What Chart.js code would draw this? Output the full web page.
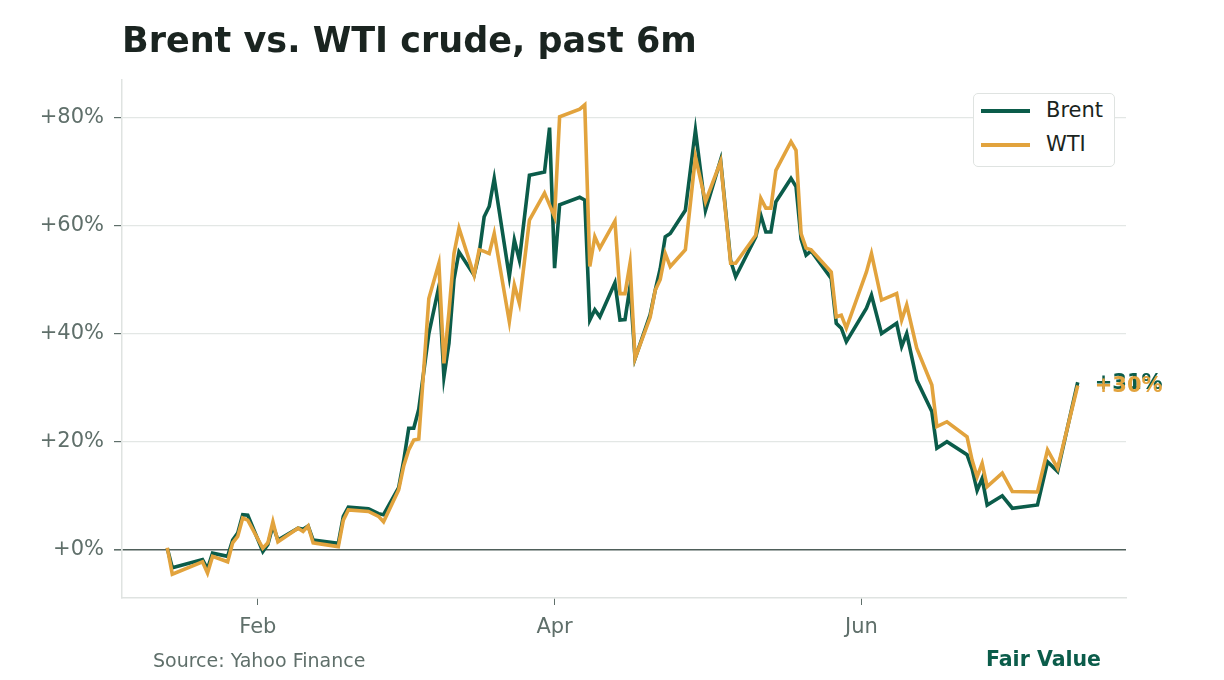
<!DOCTYPE html>
<html>
<head>
<meta charset="utf-8">
<script src="https://cdn.jsdelivr.net/npm/chart.js@4.4.1/dist/chart.umd.min.js"></script>
<style>
  html, body { margin: 0; padding: 0; background: #fff; }
  #wrap { position: relative; width: 1224px; height: 680px; font-family: 'DejaVu Sans', sans-serif; }
  #chart-box { position: absolute; left: 0; top: 0; width: 1224px; height: 680px; }
  #titulo { position: absolute; left: 122px; top: 23px; font: bold 35px 'DejaVu Sans'; line-height: 1; color: #1a2420; white-space: nowrap; }
  #fuente { position: absolute; left: 153px; top: 651px; font: 19px 'DejaVu Sans'; line-height: 1; color: #5f6f6a; }
  #marca { position: absolute; right: 123px; top: 649px; font: bold 20.5px 'DejaVu Sans'; line-height: 1; color: #0b5c4a; }
  #leyenda { position: absolute; left: 973px; top: 93px; width: 142px; height: 74px; box-sizing: border-box;
             border: 1.5px solid #dfe3e1; border-radius: 5px; background: #fff; }
  .item { position: absolute; left: 0; height: 24px; width: 140px; }
  .item .linea { position: absolute; left: 7px; top: 10px; width: 49px; height: 4px; }
  .item .txt { position: absolute; left: 72px; top: 1px; font: 21px 'DejaVu Sans'; line-height: 21px; color: #1a2420; }
</style>
</head>
<body>
<div id="wrap">
  <div id="chart-box"><canvas id="chart-crudo"></canvas></div>
  <div id="titulo">Brent vs. WTI crude, past 6m</div>
  <div id="leyenda">
    <div class="item" style="top:5px"><div class="linea" style="background:#0b5c4a"></div><div class="txt">Brent</div></div>
    <div class="item" style="top:39px"><div class="linea" style="background:#e2a33d"></div><div class="txt">WTI</div></div>
  </div>
  <div id="fuente">Source: Yahoo Finance</div>
  <div id="marca">Fair Value</div>
</div>
<script>
// fechas de cotización
const fechas = [
  '01-14','01-15','01-21','01-22','01-23','01-26','01-27','01-28','01-29','01-30',
  '02-02','02-03','02-04','02-05','02-09','02-10','02-11','02-12','02-17','02-18',
  '02-19','02-23','02-25','02-26','03-01','03-02','03-03','03-04','03-05','03-07',
  '03-09','03-10','03-11','03-12','03-13','03-16','03-17','03-18','03-19','03-20',
  '03-23','03-24','03-25','03-27','03-30','03-31','04-01','04-02','04-06','04-07',
  '04-08','04-09','04-10','04-13','04-14','04-15','04-16','04-17','04-20','04-21',
  '04-22','04-23','04-24','04-27','04-29','05-01','05-04','05-06','05-07','05-11',
  '05-12','05-13','05-14','05-15','05-18','05-19','05-20','05-21','05-22','05-26',
  '05-27','05-28','05-29','06-02','06-03','06-05','06-08','06-09','06-10','06-12',
  '06-15','06-16','06-18','06-22','06-23','06-24','06-25','06-26','06-29','07-01',
  '07-06','07-08','07-10','07-14'
];

// variación acumulada en %
const brent = [
  0.3, -3.3, -1.8, -3.5, -0.6, -1.2, 1.8, 3.1, 6.5, 6.4,
  -0.3, 1.0, 4.5, 1.8, 4.0, 3.8, 4.4, 1.8, 1.2, 6.2,
  7.9, 7.6, 6.7, 6.5, 11.5, 16.5, 22.5, 22.5, 26.0, 40.0,
  48.7, 32.0, 38.2, 50.0, 55.1, 50.8, 54.8, 61.6, 63.5, 68.7,
  50.5, 57.3, 53.6, 69.3, 69.9, 78.1, 52.1, 63.8, 65.2, 64.7,
  42.5, 44.4, 43.1, 49.4, 42.5, 42.6, 48.7, 35.4, 43.5, 48.0,
  52.0, 57.9, 58.5, 62.8, 77.6, 62.8, 72.1, 53.5, 50.5, 57.9,
  61.9, 58.8, 58.8, 64.4, 68.7, 67.2, 57.5, 54.5, 55.3, 50.2,
  41.9, 41.0, 38.5, 44.7, 47.1, 40.0, 41.9, 37.6, 40.0, 31.4,
  25.6, 18.8, 20.0, 17.6, 15.0, 11.0, 13.2, 8.3, 10.0, 7.7,
  8.3, 16.3, 14.5, 31.0
];

const wti = [
  0.4, -4.5, -2.2, -4.3, -1.2, -2.2, 1.3, 2.5, 5.9, 5.5,
  0.3, 1.3, 5.2, 1.5, 4.0, 3.4, 4.4, 1.3, 0.6, 5.5,
  7.4, 7.1, 6.2, 5.2, 11.1, 15.5, 18.5, 20.3, 20.5, 46.5,
  53.0, 34.5, 44.0, 54.8, 59.5, 50.8, 55.5, 55.2, 54.8, 58.5,
  42.2, 49.0, 45.6, 61.0, 66.0, 63.8, 61.6, 80.1, 81.5, 82.3,
  52.4, 57.9, 55.8, 60.8, 47.4, 47.4, 53.0, 35.4, 43.0, 48.0,
  50.0, 54.8, 52.4, 55.5, 72.7, 64.4, 71.8, 53.0, 53.0, 58.2,
  65.0, 63.2, 63.2, 70.2, 75.5, 73.9, 58.5, 55.8, 55.5, 51.4,
  43.1, 43.4, 41.0, 51.4, 54.8, 46.2, 47.4, 42.5, 45.3, 37.3,
  30.5, 22.8, 23.7, 20.9, 16.6, 13.5, 16.0, 11.7, 14.2, 10.8,
  10.7, 18.5, 15.1, 30.4
];

const ticksY = [0, 20, 40, 60, 80];
const ticksX = ['02-01', '04-01', '06-01'];
const etiquetasX = ['Feb', 'Apr', 'Jun'];

const colorBrent = '#0b5c4a';
const colorWTI = '#e2a33d';

// día del año (año no bisiesto)
const diaDelAnio = (mmdd) => {
  const [m, d] = mmdd.split('-').map(Number);
  return (Date.UTC(2023, m - 1, d) - Date.UTC(2023, 0, 1)) / 86400000 + 1;
};

const puntos = (serie) => serie.map((v, i) => ({ x: diaDelAnio(fechas[i]), y: v }));
const diasTicks = ticksX.map(diaDelAnio);

const etiquetasFinales = {
  id: 'etiquetasFinales',
  afterDatasetsDraw(chart) {
    const ctx = chart.ctx;
    ctx.save();
    ctx.font = 'bold 21px "DejaVu Sans"';
    ctx.textAlign = 'left';
    ctx.textBaseline = 'middle';
    [0, 1].forEach(i => {
      const ds = chart.data.datasets[i];
      const meta = chart.getDatasetMeta(i);
      const ult = meta.data[meta.data.length - 1];
      const val = ds.data[ds.data.length - 1].y;
      ctx.fillStyle = ds.borderColor;
      ctx.fillText(`+${Math.round(val)}%`, ult.x + 17, ult.y + 1);
    });
    ctx.restore();
  }
};

const ctxCrudo = document.getElementById('chart-crudo').getContext('2d');
new Chart(ctxCrudo, {
  type: 'line',
  data: {
    datasets: [
      { label: 'Brent', data: puntos(brent), borderColor: colorBrent, borderWidth: 3.6, pointRadius: 0, tension: 0, order: 2 },
      { label: 'WTI', data: puntos(wti), borderColor: colorWTI, borderWidth: 3.6, pointRadius: 0, tension: 0, order: 1 }
    ]
  },
  options: {
    responsive: true,
    maintainAspectRatio: false,
    animation: false,
    devicePixelRatio: 1,
    layout: { padding: { top: 80, right: 98, left: 0, bottom: 0 } },
    plugins: { legend: { display: false }, tooltip: { enabled: false } },
    scales: {
      x: {
        type: 'linear',
        min: 5,
        max: 204.6,
        afterFit: (s) => { s.height = 82; },
        afterBuildTicks: (s) => { s.ticks = diasTicks.map(v => ({ value: v })); },
        ticks: {
          autoSkip: false,
          maxRotation: 0,
          padding: 10,
          color: '#5f6f6a',
          font: { family: 'DejaVu Sans', size: 21 },
          callback: (v) => etiquetasX[diasTicks.indexOf(v)]
        },
        grid: { drawOnChartArea: false, drawTicks: true, tickLength: 7, tickColor: '#5f6f6a', tickWidth: 1 },
        border: { display: true, color: '#dfe3e1', width: 1.5 }
      },
      y: {
        min: -8.9,
        max: 86.9,
        afterFit: (s) => { s.width = 122; },
        afterBuildTicks: (s) => { s.ticks = ticksY.map(v => ({ value: v })); },
        ticks: {
          padding: 10,
          color: '#5f6f6a',
          font: { family: 'DejaVu Sans', size: 21 },
          callback: (v) => `+${v}%`
        },
        grid: {
          tickLength: 8,
          tickColor: '#5f6f6a',
          color: (c) => c.tick && c.tick.value === 0 ? '#4f5f5a' : '#e3e7e5',
          lineWidth: (c) => c.tick && c.tick.value === 0 ? 1.6 : 1.2
        },
        border: { display: true, color: '#dfe3e1', width: 1.5 }
      }
    }
  },
  plugins: [etiquetasFinales]
});
</script>
</body>
</html>
